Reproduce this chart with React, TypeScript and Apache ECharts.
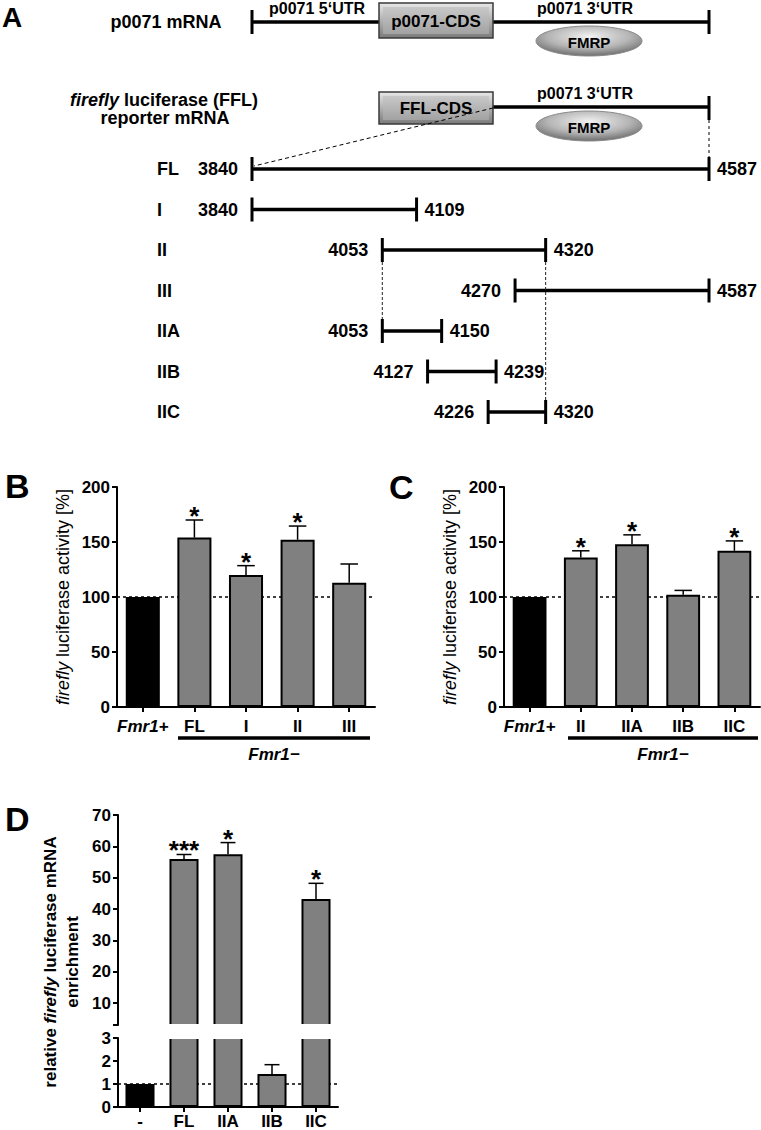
import React, { useEffect, useRef } from 'react';
import * as echarts from 'echarts';

const FONT = '"Liberation Sans", Arial, Helvetica, sans-serif';

// ---------- Panel A: reporter fragments (nucleotide positions in the p0071 3'UTR)
const fragmentNames = ['FL', 'I', 'II', 'III', 'IIA', 'IIB', 'IIC'];
const fragmentStart = [3840, 3840, 4053, 4270, 4053, 4127, 4226];
const fragmentEnd = [4587, 4109, 4320, 4587, 4150, 4239, 4320];
const utrStart = 3840;
const utrEnd = 4587;
const guidePositions = [4053, 4320];
const guideFromRow = ['II', 'II'];
const guideToRow = ['IIA', 'IIC'];

// ---------- Panel B
const bCategories = ['Fmr1+', 'FL', 'I', 'II', 'III'];
const bValues = [100, 154, 120, 152, 113];
const bErrorTop = [null, 170, 128.5, 164.5, 130];
const bStars = ['', '*', '*', '*', ''];

// ---------- Panel C
const cCategories = ['Fmr1+', 'II', 'IIA', 'IIB', 'IIC'];
const cValues = [100, 136, 148, 102, 142];
const cErrorTop = [null, 142, 156.5, 106, 151];
const cStars = ['', '*', '*', '', '*'];

// ---------- Panel D
const dCategories = ['-', 'FL', 'IIA', 'IIB', 'IIC'];
const dValues = [1, 56, 57.5, 1.44, 43.2];
const dErrorTop = [null, 57.4, 61.2, 1.84, 48.2];
const dStars = ['', '***', '*', '', '*'];
const dBreak = 3;
const dUpperLabels = [10, 20, 30, 40, 50, 60, 70];
const dUpperTicks = [3, 10, 20, 30, 40, 50, 60, 70];

const BLACK = '#000';
const GRAY = '#808080';

function richLabel(size: number) {
  return {
    it: { fontFamily: FONT, fontSize: size, fontWeight: 'bold', fontStyle: 'italic', color: BLACK },
    b: { fontFamily: FONT, fontSize: size, fontWeight: 'bold', color: BLACK },
  };
}

function catXAxis(grid: number, data: string[], margin: number, show = true) {
  return {
    type: 'category',
    gridIndex: grid,
    data,
    show,
    axisLine: { show, lineStyle: { color: BLACK, width: 2 } },
    axisTick: { show, alignWithLabel: true, length: 5, lineStyle: { color: BLACK, width: 2 } },
    axisLabel: {
      show,
      margin,
      interval: 0,
      formatter: (v: string) => (v.startsWith('Fmr1') ? `{it|${v}}` : `{b|${v}}`),
      rich: richLabel(17),
    },
  };
}

function valYAxis(grid: number, min: number, max: number, extra: any = {}) {
  return {
    type: 'value',
    gridIndex: grid,
    min,
    max,
    axisLine: { show: true, lineStyle: { color: BLACK, width: 2 } },
    axisTick: { show: true, length: 5, lineStyle: { color: BLACK, width: 2 } },
    axisLabel: { margin: 7, fontFamily: FONT, fontSize: 17, fontWeight: 'bold', color: BLACK },
    splitLine: { show: false },
    ...extra,
  };
}

const activityName = {
  name: '{i|firefly} luciferase activity [%]',
  nameLocation: 'middle',
  nameRotate: 90,
  nameGap: 45,
  nameTextStyle: {
    fontFamily: FONT,
    fontSize: 18,
    color: BLACK,
    rich: { i: { fontFamily: FONT, fontSize: 18, fontStyle: 'italic', color: BLACK } },
  },
};

function barSeries(xi: number, yi: number, values: any[], refLine: number | null) {
  const s: any = {
    type: 'bar',
    xAxisIndex: xi,
    yAxisIndex: yi,
    barWidth: '66%',
    z: 2,
    data: values,
    itemStyle: {
      color: (p: any) => (p.dataIndex === 0 ? BLACK : GRAY),
      borderColor: BLACK,
      borderWidth: 2,
    },
  };
  if (refLine !== null) {
    s.markLine = {
      z: 1,
      silent: true,
      symbol: ['none', 'none'],
      label: { show: false },
      lineStyle: { type: [3, 3], color: BLACK, width: 1.5 },
      data: [{ yAxis: refLine }],
    };
  }
  return s;
}

function errorSeries(
  xi: number,
  yi: number,
  values: number[],
  errs: (number | null)[],
  stars: string[],
  keep: (v: number) => boolean
) {
  const items: { i: number; v: number; e: number | null; s: string }[] = [];
  values.forEach((v, i) => {
    if (keep(v) && (errs[i] != null || stars[i])) items.push({ i, v, e: errs[i], s: stars[i] });
  });
  return {
    type: 'custom',
    xAxisIndex: xi,
    yAxisIndex: yi,
    z: 4,
    clip: false,
    encode: { x: 0, y: [1, 2] },
    data: items.map((it) => [it.i, it.v, it.e == null ? it.v : it.e]),
    renderItem: (params: any, api: any) => {
      const it = items[params.dataIndex];
      const x = api.value(0);
      const p0 = api.coord([x, api.value(1)]);
      const p1 = api.coord([x, api.value(2)]);
      const half = api.size([1, 0])[0] * 0.17;
      const children: any[] = [];
      if (it.e != null) {
        children.push({
          type: 'line',
          shape: { x1: p0[0], y1: p0[1], x2: p1[0], y2: p1[1] },
          style: { stroke: BLACK, lineWidth: 1.5 },
        });
        children.push({
          type: 'line',
          shape: { x1: p1[0] - half, y1: p1[1], x2: p1[0] + half, y2: p1[1] },
          style: { stroke: BLACK, lineWidth: 1.5 },
        });
      }
      if (it.s) {
        children.push({
          type: 'text',
          x: p1[0],
          y: p1[1] - 4,
          style: {
            text: it.s,
            fontFamily: FONT,
            fontSize: 26,
            fontWeight: 'bold',
            fill: BLACK,
            align: 'center',
            verticalAlign: 'middle',
          },
        });
      }
      return { type: 'group', children };
    },
  };
}

// ---------- graphic helpers (schematic, annotations)
function T(text: string, x: number, y: number, size: number, opts: any = {}) {
  return {
    type: 'text',
    x,
    y,
    style: {
      text,
      fontFamily: FONT,
      fontSize: size,
      fontWeight: 'bold',
      fill: BLACK,
      align: 'center',
      verticalAlign: 'middle',
      ...opts,
    },
  };
}
function L(x1: number, y1: number, x2: number, y2: number, w: number, dash?: number[]) {
  return {
    type: 'line',
    shape: { x1, y1, x2, y2 },
    style: { stroke: BLACK, lineWidth: w, lineDash: dash },
  };
}
function box(x: number, y: number, w: number, h: number) {
  return [
    {
      type: 'rect',
      shape: { x, y, width: w, height: h },
      style: {
        fill: new echarts.graphic.LinearGradient(0, 0, 0, 1, [
          { offset: 0, color: '#e8e8e8' },
          { offset: 1, color: '#7a7a7a' },
        ]),
        stroke: '#3a3a3a',
        lineWidth: 1.5,
      },
    },
    {
      type: 'rect',
      shape: { x: x + 4, y: y + 4, width: w - 8, height: h - 8 },
      style: {
        fill: new echarts.graphic.LinearGradient(0, 0, 0, 1, [
          { offset: 0, color: '#c8c8c8' },
          { offset: 1, color: '#a2a2a2' },
        ]),
      },
    },
  ];
}
function fmrp(cx: number, cy: number) {
  return [
    {
      type: 'ellipse',
      shape: { cx, cy, rx: 53, ry: 15 },
      style: {
        fill: new echarts.graphic.RadialGradient(0.5, 0.35, 0.65, [
          { offset: 0, color: '#f2f2f2' },
          { offset: 0.6, color: '#b4b4b4' },
          { offset: 1, color: '#6e6e6e' },
        ]),
        stroke: '#8a8a8a',
        lineWidth: 1,
      },
    },
    T('FMRP', cx, cy + 1, 15),
  ];
}

function buildGraphics() {
  const g: any[] = [];
  g.push(T('A', 2, 17, 28, { align: 'left' }));
  g.push(T('B', 5, 486, 34, { align: 'left' }));
  g.push(T('C', 389, 487, 34, { align: 'left' }));
  g.push(T('D', 5, 819, 34, { align: 'left' }));

  // p0071 mRNA
  g.push(T('p0071 mRNA', 166, 22, 18));
  g.push(L(252, 22, 709, 22, 3.5));
  g.push(L(252, 10, 252, 34, 3));
  g.push(L(709, 10, 709, 34, 3));
  g.push(...box(379, 3, 114, 35));
  g.push(T('p0071-CDS', 436, 21, 17));
  g.push(T('p0071 5\u2018UTR', 317, 8, 16));
  g.push(T('p0071 3\u2018UTR', 585, 8, 16));
  g.push(...fmrp(589, 41));

  // reporter mRNA
  g.push(
    T('{i|firefly} luciferase (FFL)', 164, 100, 18, {
      rich: { i: { fontFamily: FONT, fontSize: 18, fontWeight: 'bold', fontStyle: 'italic', fill: BLACK } },
    })
  );
  g.push(T('reporter mRNA', 165, 118, 18));
  g.push(L(493, 107, 709, 107, 3.5));
  g.push(L(709, 96, 709, 120, 3));
  g.push(...box(379, 92, 114, 32));
  g.push(T('FFL-CDS', 436, 108, 17));
  g.push(T('p0071 3\u2018UTR', 585, 93, 16));
  g.push(...fmrp(589, 126));
  g.push(L(493, 108, 254, 166, 1, [4, 3]));
  g.push(L(709, 120, 709, 157, 1, [3, 3]));

  // Fmr1- groupings
  g.push(L(178, 738, 370, 738, 3.5));
  g.push(T('Fmr1\u2212', 274, 754, 17, { fontStyle: 'italic' }));
  g.push(L(568, 738, 758, 738, 3.5));
  g.push(T('Fmr1\u2212', 663, 754, 17, { fontStyle: 'italic' }));

  // D axis title
  g.push({
    type: 'text',
    x: 61,
    y: 962,
    rotation: Math.PI / 2,
    style: {
      text: 'relative {bi|firefly} luciferase mRNA\nenrichment',
      fontFamily: FONT,
      fontSize: 17,
      fontWeight: 'bold',
      fill: BLACK,
      align: 'center',
      verticalAlign: 'middle',
      lineHeight: 22,
      rich: {
        bi: { fontFamily: FONT, fontSize: 17, fontWeight: 'bold', fontStyle: 'italic', fill: BLACK, lineHeight: 22 },
      },
    },
  });

  // axis break gap in panel D
  g.push({
    type: 'rect',
    z: 100,
    shape: { x: 120, y: 1024, width: 222, height: 15 },
    style: { fill: '#fff' },
  });
  return g;
}

function buildOption(): any {
  const fragmentData = fragmentNames.map((_, i) => [fragmentStart[i], fragmentEnd[i], i]);
  const guideData = guidePositions.map((p, i) => [
    p,
    fragmentNames.indexOf(guideFromRow[i]),
    fragmentNames.indexOf(guideToRow[i]),
  ]);
  const textStyle = { fontFamily: FONT, fontSize: 18, fontWeight: 'bold', fill: BLACK };

  return {
    animation: false,
    backgroundColor: '#fff',
    grid: [
      { left: 252, width: 457, top: 148.75, height: 283.5 },
      { left: 117, width: 258, top: 487, height: 220 },
      { left: 504, width: 256, top: 487, height: 220 },
      { left: 118, width: 220, top: 815, height: 210 },
      { left: 118, width: 220, top: 1038, height: 70 },
    ],
    xAxis: [
      { type: 'value', gridIndex: 0, min: utrStart, max: utrEnd, show: false },
      catXAxis(1, bCategories, 11),
      catXAxis(2, cCategories, 11),
      catXAxis(3, dCategories, 5, false),
      catXAxis(4, dCategories, 6),
    ],
    yAxis: [
      {
        type: 'category',
        gridIndex: 0,
        data: fragmentNames,
        inverse: true,
        axisLine: { show: false },
        axisTick: { show: false },
        axisLabel: { align: 'left', margin: 95, fontFamily: FONT, fontSize: 18, fontWeight: 'bold', color: BLACK },
      },
      valYAxis(1, 0, 200, { interval: 50, ...activityName }),
      valYAxis(2, 0, 200, { interval: 50, ...activityName }),
      valYAxis(3, dBreak, 70, {
        axisTick: { show: true, length: 5, lineStyle: { color: BLACK, width: 2 }, customValues: dUpperTicks },
        axisLabel: {
          margin: 7,
          fontFamily: FONT,
          fontSize: 17,
          fontWeight: 'bold',
          color: BLACK,
          customValues: dUpperLabels,
        },
      }),
      valYAxis(4, 0, dBreak, { interval: 1 }),
    ],
    graphic: { elements: buildGraphics() },
    series: [
      {
        type: 'custom',
        xAxisIndex: 0,
        yAxisIndex: 0,
        clip: false,
        encode: { x: [0, 1], y: 2 },
        data: fragmentData,
        renderItem: (params: any, api: any) => {
          const r = api.value(2);
          const a = api.coord([api.value(0), r]);
          const b = api.coord([api.value(1), r]);
          const h = 12;
          return {
            type: 'group',
            children: [
              { type: 'line', shape: { x1: a[0], y1: a[1], x2: b[0], y2: b[1] }, style: { stroke: BLACK, lineWidth: 3.5 } },
              { type: 'line', shape: { x1: a[0], y1: a[1] - h, x2: a[0], y2: a[1] + h }, style: { stroke: BLACK, lineWidth: 3 } },
              { type: 'line', shape: { x1: b[0], y1: b[1] - h, x2: b[0], y2: b[1] + h }, style: { stroke: BLACK, lineWidth: 3 } },
              {
                type: 'text',
                x: a[0] - 14,
                y: a[1],
                style: { ...textStyle, text: String(api.value(0)), align: 'right', verticalAlign: 'middle' },
              },
              {
                type: 'text',
                x: b[0] + 8,
                y: b[1],
                style: { ...textStyle, text: String(api.value(1)), align: 'left', verticalAlign: 'middle' },
              },
            ],
          };
        },
      },
      {
        type: 'custom',
        xAxisIndex: 0,
        yAxisIndex: 0,
        clip: false,
        encode: { x: 0, y: [1, 2] },
        data: guideData,
        renderItem: (params: any, api: any) => {
          const p = api.value(0);
          const a = api.coord([p, api.value(1)]);
          const b = api.coord([p, api.value(2)]);
          return {
            type: 'line',
            shape: { x1: a[0], y1: a[1] + 12, x2: b[0], y2: b[1] - 12 },
            style: { stroke: '#222', lineWidth: 1, lineDash: [3, 2] },
          };
        },
      },
      // Panel B
      barSeries(1, 1, bValues, 100),
      errorSeries(1, 1, bValues, bErrorTop, bStars, () => true),
      // Panel C
      barSeries(2, 2, cValues, 100),
      errorSeries(2, 2, cValues, cErrorTop, cStars, () => true),
      // Panel D upper part
      barSeries(3, 3, dValues.map((v) => (v > dBreak ? v : '-')), null),
      errorSeries(3, 3, dValues, dErrorTop, dStars, (v) => v > dBreak),
      // Panel D lower part
      barSeries(4, 4, dValues, 1),
      errorSeries(4, 4, dValues, dErrorTop, dStars, (v) => v <= dBreak),
    ],
  };
}

export default function App() {
  const ref = useRef<HTMLDivElement>(null);
  useEffect(() => {
    const chart = echarts.init(ref.current as HTMLDivElement, null, { renderer: 'svg', width: 761, height: 1130 });
    chart.setOption(buildOption());
    return () => chart.dispose();
  }, []);
  return (
    <div
      ref={ref}
      style={{ position: 'absolute', left: 0, top: 0, width: 761, height: 1130, background: '#fff' }}
    />
  );
}
